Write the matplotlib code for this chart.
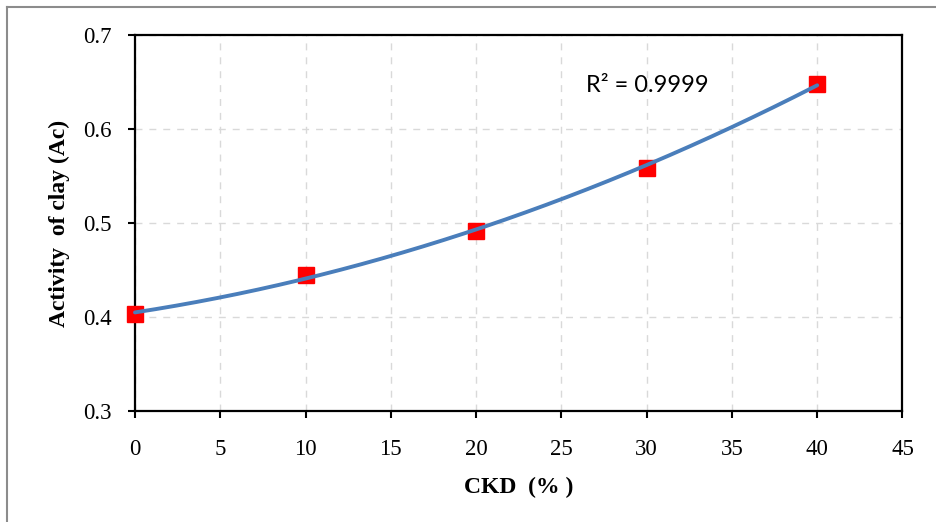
import numpy as np
import matplotlib
matplotlib.use("Agg")
import matplotlib.pyplot as plt
from matplotlib.lines import Line2D

ckd = [0, 10, 20, 30, 40]
activity = [0.403, 0.445, 0.492, 0.559, 0.648]
x_ticks = [0, 5, 10, 15, 20, 25, 30, 35, 40, 45]
y_ticks = [0.3, 0.4, 0.5, 0.6, 0.7]
r2_label = "R² = 0.9999"

plt.rcParams['font.family'] = ['Liberation Serif', 'DejaVu Serif']

fig = plt.figure(figsize=(9.36, 5.22), dpi=100)
ax = fig.add_axes([0.1442, 0.2126, 0.8200, 0.7204])

# polynomial trendline fitted to the data
coef = np.polyfit(ckd, activity, 2)
xf = np.linspace(min(ckd), max(ckd), 200)
ax.plot(xf, np.polyval(coef, xf), color='#4A7EBB', lw=2.8, zorder=4, solid_capstyle='round', clip_on=False)
ax.plot(ckd, activity, linestyle='none', marker='s', ms=11, color='#FF0000', mec='#FF0000', zorder=3, clip_on=False)

ax.set_xlim(0, 45)
ax.set_ylim(0.3, 0.7)
ax.set_xticks(x_ticks)
ax.set_yticks(y_ticks)
ax.set_xticklabels([str(t) for t in x_ticks])
ax.set_yticklabels([f"{t:.1f}" for t in y_ticks])
ax.tick_params(axis='both', direction='out', length=5, width=1.5, labelsize=16.5, colors='black')
ax.tick_params(axis='x', pad=15)
ax.tick_params(axis='y', pad=12)
for s in ax.spines.values():
    s.set_linewidth(1.6)
    s.set_color('black')

ax.grid(True, color='#D9D9D9', linestyle=(0, (5, 5)), linewidth=1.0)
ax.set_axisbelow(True)

ax.set_xlabel("CKD  (% )", fontsize=17, fontweight='bold', labelpad=12)
ax.set_ylabel("Activity  of clay (Ac)", fontsize=17, fontweight='bold', labelpad=9)

ax.text(26.45, 0.646, r2_label, fontsize=17, family=['Lato', 'DejaVu Sans'], va='center', ha='left')

# outer frame (top and left visible)
fig.add_artist(Line2D([7/936, 1.0], [1 - 7/522, 1 - 7/522], transform=fig.transFigure, color='#8C8C8C', lw=1.5))
fig.add_artist(Line2D([7/936, 7/936], [0.0, 1 - 7/522], transform=fig.transFigure, color='#8C8C8C', lw=1.5))

fig.savefig("out.png", dpi=100)
